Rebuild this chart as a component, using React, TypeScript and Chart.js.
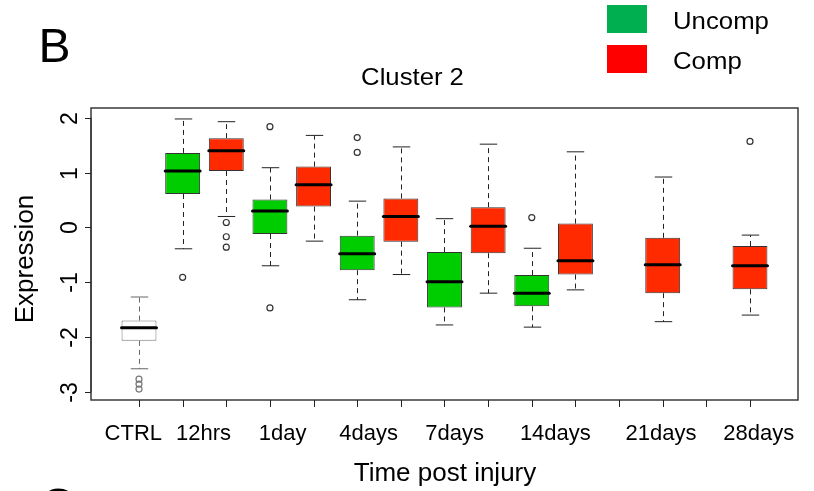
import React, { useEffect, useRef } from 'react';
import { Chart, registerables } from 'chart.js';

Chart.register(...registerables);

// ---- data ----
const categories = ['CTRL', '12hrs', '1day', '4days', '7days', '14days', '21days', '28days'];
const categoryLabelPositions = [0.87, 2.48, 4.29, 6.26, 8.23, 10.54, 12.96, 15.2];
const slotTicks = [1, 2, 3, 4, 5, 6, 7, 8, 9, 10, 11, 12, 13, 14, 15];
const yTicks = [-3, -2, -1, 0, 1, 2];

const boxPositions = [1, 2, 3, 4, 5, 6, 7, 8, 9, 10, 11, 13, 15];
const boxGroups = ['ctrl', 'uncomp', 'comp', 'uncomp', 'comp', 'uncomp', 'comp', 'uncomp', 'comp', 'uncomp', 'comp', 'comp', 'comp'];
const whiskerLow = [-2.58, -0.39, 0.2, -0.7, -0.25, -1.32, -0.86, -1.78, -1.2, -1.82, -1.14, -1.72, -1.6];
const quartile1 = [-2.07, 0.61, 1.03, -0.12, 0.38, -0.78, -0.26, -1.46, -0.47, -1.44, -0.86, -1.2, -1.13];
const medians = [-1.83, 1.03, 1.4, 0.3, 0.78, -0.48, 0.2, -0.99, 0.02, -1.2, -0.61, -0.68, -0.7];
const quartile3 = [-1.7, 1.36, 1.63, 0.51, 1.11, -0.15, 0.53, -0.45, 0.37, -0.87, 0.07, -0.19, -0.34];
const whiskerHigh = [-1.27, 1.98, 1.93, 1.09, 1.68, 0.48, 1.47, 0.16, 1.52, -0.38, 1.38, 0.92, -0.14];

const outlierPositions = [1, 1, 1, 2, 3, 3, 3, 4, 4, 6, 6, 10, 15];
const outlierValues = [-2.77, -2.86, -2.95, -0.91, 0.09, -0.17, -0.36, 1.84, -1.47, 1.64, 1.37, 0.18, 1.57];

const legendLabels = ['Uncomp', 'Comp'];
const legendColors = ['#00B050', '#FF0000'];
const groupFill: Record<string, string> = { ctrl: '#FFFFFF', uncomp: '#00CD00', comp: '#FF2A00' };

const FONT = "'Liberation Sans', Arial, Helvetica, sans-serif";

function drawText(
  ctx: CanvasRenderingContext2D,
  s: string,
  x: number,
  y: number,
  size: number,
  align: CanvasTextAlign = 'center',
  sx = 1,
  rot = 0
) {
  ctx.save();
  ctx.translate(x, y);
  if (rot) ctx.rotate(rot);
  ctx.scale(sx, 1);
  ctx.font = `${size}px ${FONT}`;
  ctx.fillStyle = '#000';
  ctx.textAlign = align;
  ctx.textBaseline = 'alphabetic';
  ctx.fillText(s, 0, 0);
  ctx.restore();
}

function seg(ctx: CanvasRenderingContext2D, x1: number, y1: number, x2: number, y2: number) {
  ctx.beginPath();
  ctx.moveTo(x1, y1);
  ctx.lineTo(x2, y2);
  ctx.stroke();
}

const boxPlugin = {
  id: 'boxExtras',
  beforeDatasetsDraw(chart: any) {
    const { ctx, scales } = chart;
    const x = scales.x;
    const y = scales.y;
    ctx.save();
    boxPositions.forEach((p, i) => {
      const cx = Math.round(x.getPixelForValue(p)) + 0.5;
      const hw = x.getPixelForValue(p + 0.2) - x.getPixelForValue(p);
      ctx.strokeStyle = boxGroups[i] === 'ctrl' ? '#666' : '#222';
      ctx.lineWidth = 1;
      ctx.setLineDash([5, 4]);
      seg(ctx, cx, y.getPixelForValue(quartile3[i]), cx, y.getPixelForValue(whiskerHigh[i]));
      seg(ctx, cx, y.getPixelForValue(quartile1[i]), cx, y.getPixelForValue(whiskerLow[i]));
      ctx.setLineDash([]);
      const yh = y.getPixelForValue(whiskerHigh[i]);
      const yl = y.getPixelForValue(whiskerLow[i]);
      seg(ctx, cx - hw, yh, cx + hw, yh);
      seg(ctx, cx - hw, yl, cx + hw, yl);
    });
    ctx.restore();
  },
  afterDatasetsDraw(chart: any) {
    const { ctx, scales } = chart;
    const x = scales.x;
    const y = scales.y;
    ctx.save();
    boxPositions.forEach((p, i) => {
      const cx = x.getPixelForValue(p);
      const hw = x.getPixelForValue(p + 0.4) - cx;
      const ym = y.getPixelForValue(medians[i]);
      ctx.strokeStyle = '#000';
      ctx.lineWidth = 3;
      ctx.lineCap = 'round';
      seg(ctx, cx - hw, ym, cx + hw, ym);
    });
    ctx.restore();
  },
  afterDraw(chart: any) {
    const { ctx, scales, chartArea } = chart;
    const x = scales.x;
    const y = scales.y;
    const { left, right, top, bottom } = chartArea;
    ctx.save();
    // frame
    ctx.strokeStyle = '#3a3a3a';
    ctx.lineWidth = 1.5;
    ctx.strokeRect(left, top, right - left, bottom - top);
    // y axis ticks
    ctx.lineWidth = 1;
    ctx.strokeStyle = '#222';
    seg(ctx, left, y.getPixelForValue(yTicks[0]), left, y.getPixelForValue(yTicks[yTicks.length - 1]));
    yTicks.forEach((v) => {
      const py = Math.round(y.getPixelForValue(v)) + 0.5;
      seg(ctx, left - 6, py, left, py);
      drawText(ctx, String(v), left - 14, py, 23, 'center', 1, -Math.PI / 2);
    });
    // x axis ticks
    slotTicks.forEach((s) => {
      const px = Math.round(x.getPixelForValue(s)) + 0.5;
      seg(ctx, px, bottom, px, bottom + 7);
    });
    categories.forEach((c, i) => {
      drawText(ctx, c, x.getPixelForValue(categoryLabelPositions[i]), bottom + 40, 22, 'center');
    });
    // axis titles
    drawText(ctx, 'Time post injury', (left + right) / 2 + 0.5, bottom + 81, 26, 'center');
    drawText(ctx, 'Expression', left - 58, (top + bottom) / 2 + 5, 26, 'center', 1, -Math.PI / 2);
    // main title
    drawText(ctx, 'Cluster 2', 412.5, 84.5, 24, 'center', 1.07);
    // panel letters
    drawText(ctx, 'B', 38.5, 62, 48, 'left');
    drawText(ctx, 'C', 40, 522, 48, 'left');
    // legend
    legendLabels.forEach((lab, i) => {
      const ly = 5 + i * 40;
      ctx.fillStyle = legendColors[i];
      ctx.fillRect(607, ly, 40, 28);
      drawText(ctx, lab, 673, ly + 24.3, 23, 'left', 1.12);
    });
    ctx.restore();
  },
};

export default function App() {
  const canvasRef = useRef<HTMLCanvasElement | null>(null);

  useEffect(() => {
    const canvas = canvasRef.current;
    if (!canvas) return;
    const chart = new Chart(canvas, {
      type: 'bar',
      data: {
        datasets: [
          {
            type: 'bar',
            label: 'boxes',
            data: boxPositions.map((p, i) => ({ x: p, y: [quartile1[i], quartile3[i]] })) as any,
            backgroundColor: boxGroups.map((g) => groupFill[g]),
            borderColor: boxGroups.map((g) => (g === 'ctrl' ? '#777' : '#333')),
            borderWidth: 1,
            borderSkipped: false,
            grouped: false,
            barPercentage: 0.8,
            categoryPercentage: 1,
          } as any,
          {
            type: 'scatter',
            label: 'outliers',
            data: outlierPositions.map((p, i) => ({ x: p, y: outlierValues[i] })),
            pointStyle: 'circle',
            pointRadius: 3,
            backgroundColor: 'rgba(0,0,0,0)',
            borderColor: outlierPositions.map((p) => (p === 1 ? '#777' : '#333')),
            borderWidth: 1.2,
          } as any,
        ],
      },
      options: {
        animation: false,
        responsive: false,
        devicePixelRatio: 1,
        layout: { padding: { left: 91, top: 108, right: 16, bottom: 91 } },
        plugins: { legend: { display: false }, tooltip: { enabled: false }, title: { display: false } },
        scales: {
          x: { type: 'linear', min: -0.1, max: 16.1, offset: false, display: false, grid: { offset: false } },
          y: { type: 'linear', min: -3.15, max: 2.18, display: false },
        },
      } as any,
      plugins: [boxPlugin],
    });
    return () => chart.destroy();
  }, []);

  return (
    <div style={{ position: 'absolute', left: 0, top: 0, width: 814, height: 491, background: '#fff' }}>
      <canvas ref={canvasRef} width={814} height={491} />
    </div>
  );
}
